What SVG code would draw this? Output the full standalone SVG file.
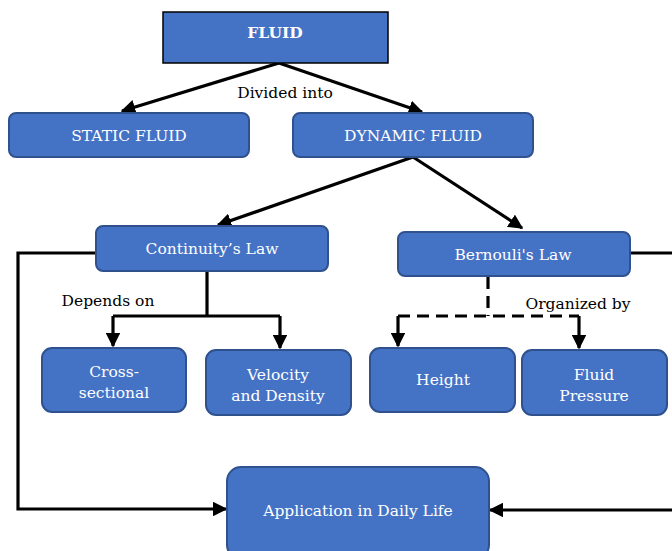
<svg xmlns="http://www.w3.org/2000/svg" width="672" height="551" viewBox="0 0 672 551">
<style>
.box{fill:#4472C4;stroke:#2F528F;stroke-width:2}
.t{font-family:"DejaVu Serif","Liberation Serif",serif;font-size:15.5px;fill:#fff;text-anchor:middle}
.lbl{font-family:"DejaVu Serif","Liberation Serif",serif;font-size:15.5px;fill:#000;text-anchor:middle}
.c{fill:none;stroke:#000;stroke-width:3.2}
.d{stroke-dasharray:12 7}
</style>
<defs>
<marker id="ah" viewBox="0 0 10 10" refX="9" refY="5" markerWidth="4.6" markerHeight="4.6" orient="auto" markerUnits="strokeWidth">
<path d="M0,0 L10,5 L0,10 z" fill="#000"/>
</marker>
</defs>
<rect width="672" height="551" fill="#fff"/>
<g id="connectors">
<path class="c" d="M279,63 L122,111" marker-end="url(#ah)"/>
<path class="c" d="M279,63 L422,112" marker-end="url(#ah)"/>
<path class="c" d="M413,157 L218,225" marker-end="url(#ah)"/>
<path class="c" d="M413,157 L522,228" marker-end="url(#ah)"/>
<path class="c" d="M96,253 H18 V509 H226" marker-end="url(#ah)"/>
<path class="c" d="M207,271 V316"/>
<path class="c" d="M113,316 H280"/>
<path class="c" d="M113,316 V346" marker-end="url(#ah)"/>
<path class="c" d="M280,316 V348" marker-end="url(#ah)"/>
<path class="c d" d="M488,277 V316"/>
<path class="c d" d="M398,316 H579"/>
<path class="c" d="M398,316 V346" marker-end="url(#ah)"/>
<path class="c" d="M579,316 V348" marker-end="url(#ah)"/>
<path class="c" d="M630,253 H672"/>
<path class="c" d="M672,510 H490" marker-end="url(#ah)"/>
<text class="lbl" x="285" y="98">Divided into</text>
<text class="lbl" x="108" y="306">Depends on</text>
<text class="lbl" x="578" y="309">Organized by</text>
</g>
<g id="fluid">
<rect x="163" y="12" width="225" height="51" fill="#4472C4" stroke="#000" stroke-width="1.5"/>
<text class="t" x="275" y="38" font-weight="bold" font-size="15">FLUID</text>
</g>
<g id="static">
<rect class="box" x="9" y="113" width="240" height="44" rx="7"/>
<text class="t" x="129" y="141">STATIC FLUID</text>
</g>
<g id="dynamic">
<rect class="box" x="293" y="113" width="240" height="44" rx="7"/>
<text class="t" x="413" y="141">DYNAMIC FLUID</text>
</g>
<g id="continuity">
<rect class="box" x="96" y="226" width="232" height="45" rx="7"/>
<text class="t" x="212" y="254">Continuity’s Law</text>
</g>
<g id="bernoulli">
<rect class="box" x="398" y="232" width="232" height="44" rx="7"/>
<text class="t" x="513" y="260">Bernouli's Law</text>
</g>
<g id="cross">
<rect class="box" x="42" y="348" width="144" height="64" rx="10"/>
<text class="t" x="114" y="377">Cross-</text>
<text class="t" x="114" y="398">sectional</text>
</g>
<g id="velocity">
<rect class="box" x="206" y="350" width="145" height="65" rx="10"/>
<text class="t" x="278" y="380">Velocity</text>
<text class="t" x="278" y="401">and Density</text>
</g>
<g id="height">
<rect class="box" x="370" y="348" width="145" height="64" rx="10"/>
<text class="t" x="443" y="385">Height</text>
</g>
<g id="pressure">
<rect class="box" x="522" y="350" width="145" height="65" rx="10"/>
<text class="t" x="594" y="380">Fluid</text>
<text class="t" x="594" y="401">Pressure</text>
</g>
<g id="application">
<rect class="box" x="227" y="467" width="262" height="92" rx="14"/>
<text class="t" x="358" y="516">Application in Daily Life</text>
</g>
</svg>
